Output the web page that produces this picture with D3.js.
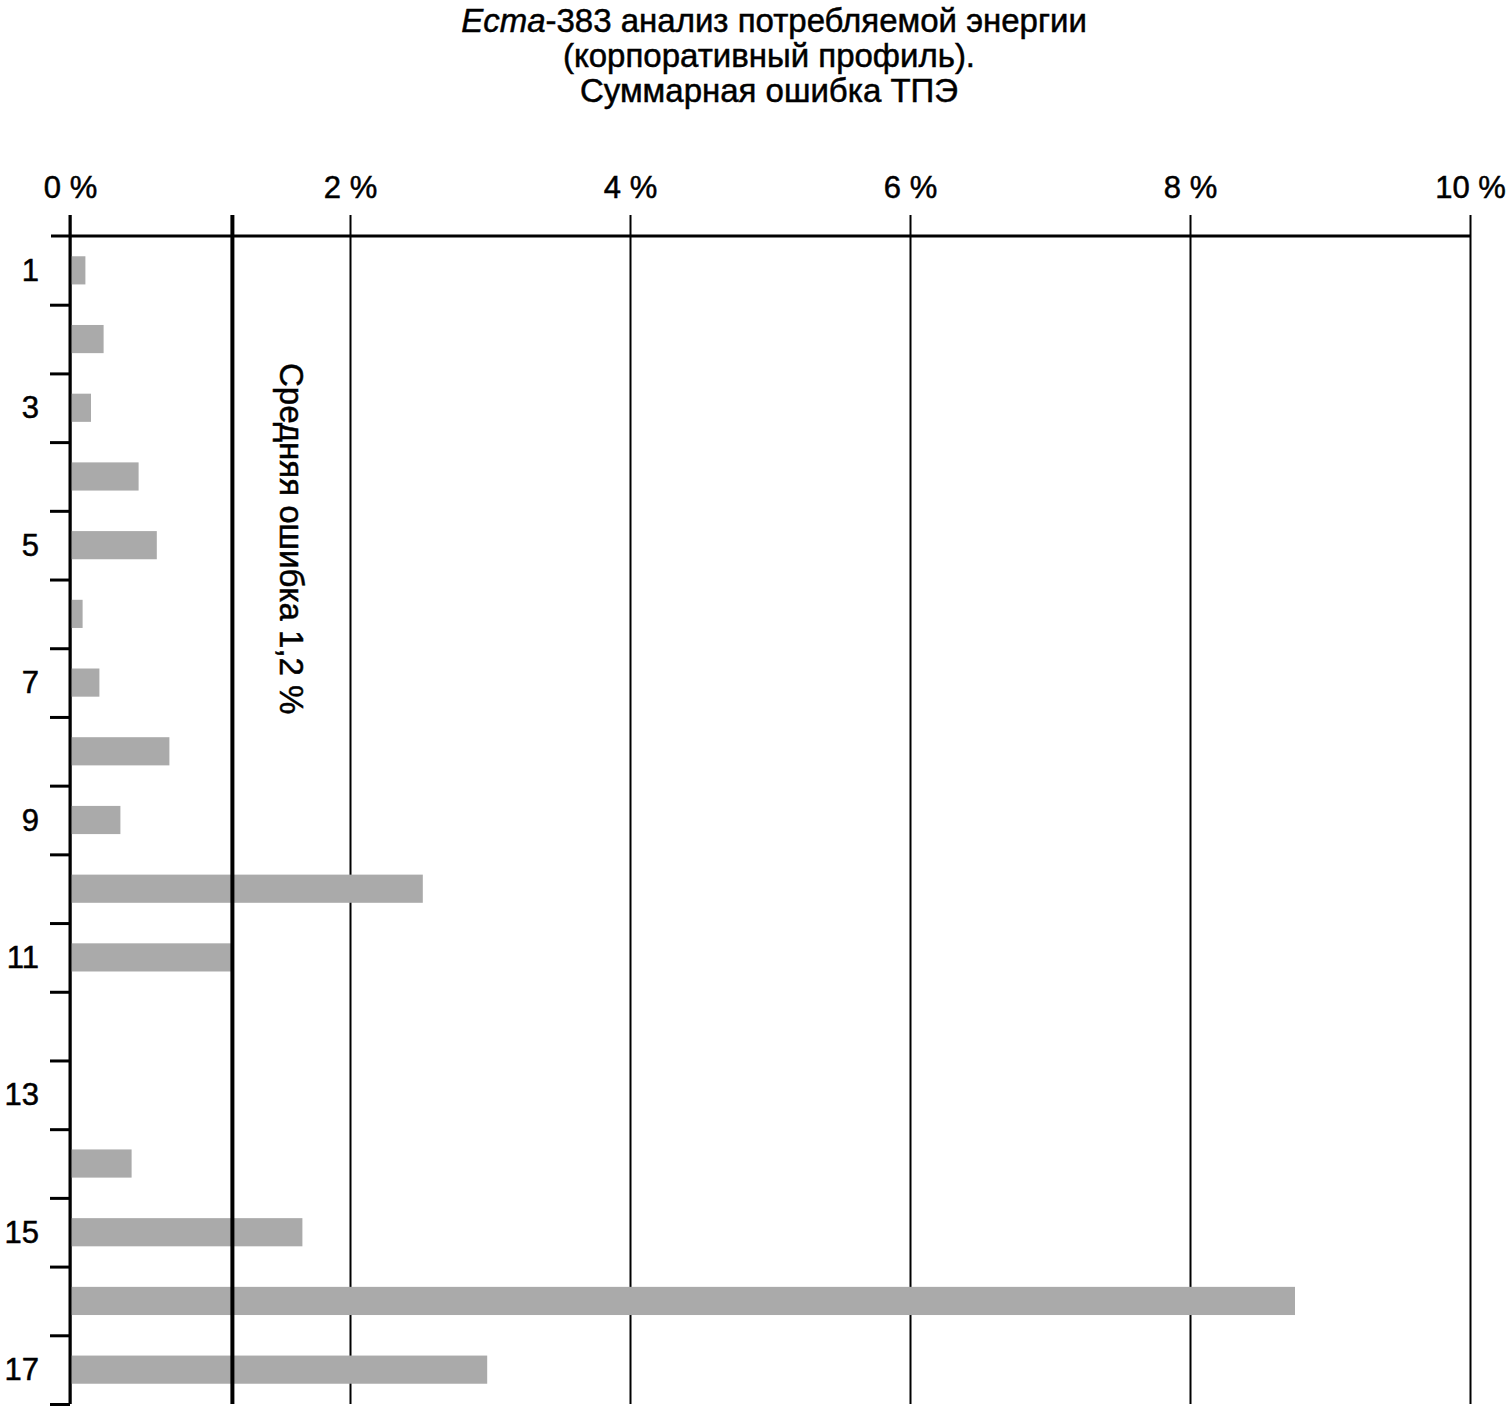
<!DOCTYPE html>
<html lang="ru">
<head>
<meta charset="UTF-8">
<title>Ecma-383 анализ потребляемой энергии</title>
<script src="https://d3js.org/d3.v7.min.js"></script>
<style>
  body { margin: 0; background: #fff; }
  text { font-family: "Liberation Sans", Arial, sans-serif; fill: #000; stroke: #000; stroke-width: 0.5px; }
</style>
</head>
<body>
<svg id="chart" width="1510" height="1410"></svg>
<script>
// data
const categories = ["1","2","3","4","5","6","7","8","9","10","11","12","13","14","15","16","17"];
const errors = [0.11, 0.24, 0.15, 0.49, 0.62, 0.09, 0.21, 0.71, 0.36, 2.52, 1.16, 0, 0, 0.44, 1.66, 8.75, 2.98];
const xTicks = [0, 2, 4, 6, 8, 10];
const meanError = 1.16;
const meanLabel = "Средняя ошибка 1,2 %";
const titleLines = ["анализ потребляемой энергии", "(корпоративный профиль).", "Суммарная ошибка ТПЭ"];

const svg = d3.select("#chart");
const plotLeft = 70, plotRight = 1470, axisY = 236, lineTop = 215, plotBottom = 1404;

const x = d3.scaleLinear().domain([0, 10]).range([plotLeft, plotRight]);
const y = d3.scaleBand().domain(categories).range([axisY, plotBottom])
    .paddingInner(0.59).paddingOuter(0.295);

// title
const title = svg.append("text")
    .attr("x", 774).attr("y", 32)
    .attr("text-anchor", "middle")
    .style("font-size", "33px");
title.append("tspan").style("font-style", "italic").text("Ecma");
title.append("tspan").text("-383 " + titleLines[0]);
titleLines.slice(1).forEach((t, i) => {
    svg.append("text")
        .attr("x", 769).attr("y", 67 + i * 35)
        .attr("text-anchor", "middle")
        .style("font-size", "33px")
        .text(t);
});

// top axis with grid lines
const xAxis = svg.append("g")
    .attr("transform", `translate(0,${lineTop})`)
    .call(d3.axisTop(x).tickValues(xTicks)
        .tickFormat(d => d + " %")
        .tickSize(-(plotBottom - lineTop))
        .tickPadding(17));
xAxis.select(".domain").remove();
xAxis.selectAll(".tick line").attr("stroke", "#000").attr("stroke-width", 2);
xAxis.selectAll(".tick text")
    .style("font-size", "31px")
    .style("font-family", "'Liberation Sans', Arial, sans-serif");

// bars
svg.append("g").selectAll("rect")
    .data(errors)
    .join("rect")
    .attr("x", x(0))
    .attr("y", (d, i) => y(categories[i]))
    .attr("width", d => x(d) - x(0))
    .attr("height", y.bandwidth())
    .attr("fill", "#aaaaaa");

// axis lines
svg.append("line")
    .attr("x1", 51).attr("x2", plotRight)
    .attr("y1", axisY).attr("y2", axisY)
    .attr("stroke", "#000").attr("stroke-width", 3);
svg.append("line")
    .attr("x1", plotLeft).attr("x2", plotLeft)
    .attr("y1", lineTop).attr("y2", plotBottom)
    .attr("stroke", "#000").attr("stroke-width", 3);

// left ticks on category boundaries
const yEdge = d3.scaleLinear().domain([0, categories.length]).range([axisY, plotBottom]);
const yAxis = svg.append("g")
    .attr("transform", `translate(${plotLeft},0)`)
    .call(d3.axisLeft(yEdge).tickValues(d3.range(1, categories.length + 1))
        .tickSize(20).tickFormat(""));
yAxis.select(".domain").remove();
yAxis.selectAll(".tick line").attr("stroke", "#000").attr("stroke-width", 3);

// category labels (odd only)
svg.append("g").selectAll("text")
    .data(categories.filter((c, i) => i % 2 === 0))
    .join("text")
    .attr("x", 39)
    .attr("y", d => y(d) + y.bandwidth() / 2)
    .attr("text-anchor", "end")
    .attr("dominant-baseline", "central")
    .style("font-size", "31px")
    .text(d => d);

// mean line
svg.append("line")
    .attr("x1", x(meanError)).attr("x2", x(meanError))
    .attr("y1", lineTop).attr("y2", plotBottom)
    .attr("stroke", "#000").attr("stroke-width", 4);

svg.append("text")
    .attr("transform", `translate(291,363) rotate(90)`)
    .attr("dominant-baseline", "central")
    .style("font-size", "33px")
    .text(meanLabel);
</script>
</body>
</html>
